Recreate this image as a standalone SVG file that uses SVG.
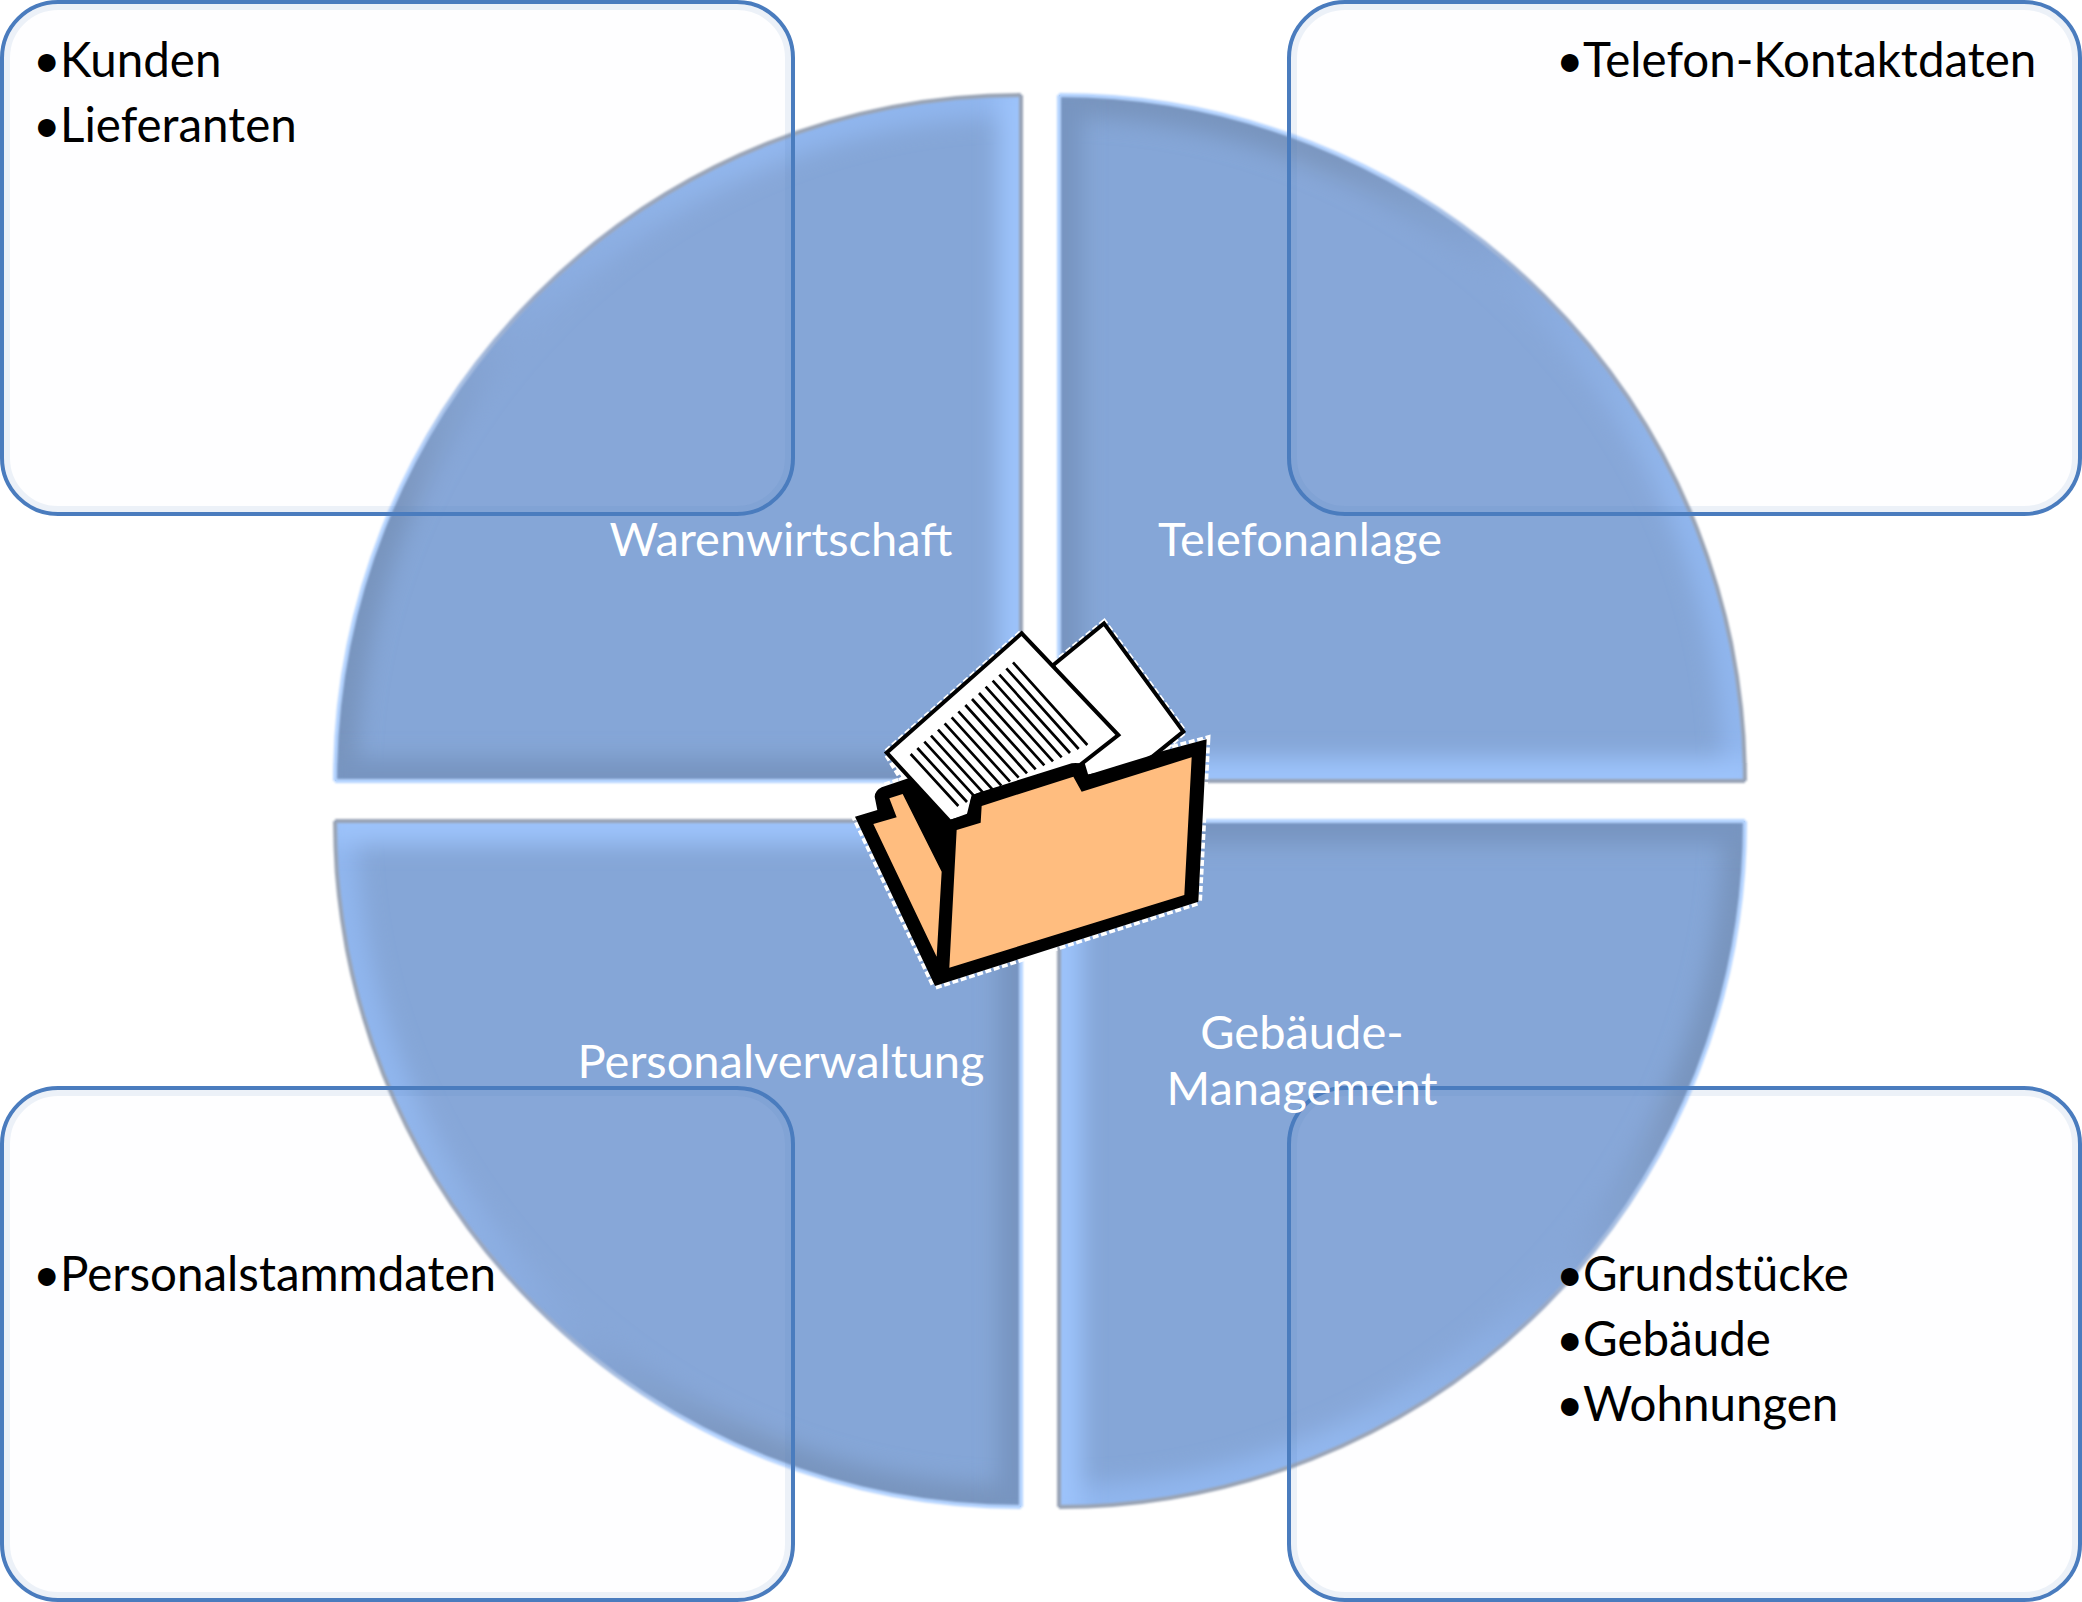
<svg xmlns="http://www.w3.org/2000/svg" xmlns:xlink="http://www.w3.org/1999/xlink" width="2082" height="1602" viewBox="0 0 2082 1602">
<style>
text{font-family:Lato,"Liberation Sans",sans-serif}
.b{font-size:47.5px;fill:#000}
.l{font-size:47px;fill:#fff;text-anchor:middle}
.box{fill:#e8d8ff;fill-opacity:.03;stroke:#4a7cbe;stroke-width:4}
.boxi{fill:none;stroke:#4a7cbe;stroke-opacity:.1;stroke-width:6}
</style>
<defs>
<clipPath id="qc"><path d="M0,0L-686,0A686,686 0 0 1 0,-686Z"/></clipPath>
<filter id="bl" filterUnits="userSpaceOnUse" x="-740" y="-740" width="800" height="800"><feGaussianBlur stdDeviation="11"/></filter>
<filter id="bs" filterUnits="userSpaceOnUse" x="-740" y="-740" width="800" height="800"><feGaussianBlur stdDeviation="1"/></filter>
<linearGradient id="arcIn" gradientUnits="userSpaceOnUse" x1="-250" y1="-600" x2="-600" y2="-250"><stop offset="0" stop-color="#90b6ee"/><stop offset=".45" stop-color="#88abdf"/><stop offset=".6" stop-color="#85a6d7"/><stop offset="1" stop-color="#7894be"/></linearGradient>
<linearGradient id="arcOut" gradientUnits="userSpaceOnUse" x1="-300" y1="-600" x2="-600" y2="-300"><stop offset="0" stop-color="#9aa4b5"/><stop offset=".5" stop-color="#98a8c4"/><stop offset="1" stop-color="#b5d4ff"/></linearGradient>
<g id="q">
<path d="M0,0L-686,0A686,686 0 0 1 0,-686Z" fill="#85a6d7"/>
<g clip-path="url(#qc)">
<path d="M-686,0A686,686 0 0 1 0,-686" fill="none" stroke="url(#arcIn)" stroke-width="44" filter="url(#bl)"/>
<path d="M0,20L0,-700" fill="none" stroke="#9cc3fb" stroke-width="46" filter="url(#bl)"/>
<path d="M-700,0L20,0" fill="none" stroke="#7794c0" stroke-width="46" filter="url(#bl)"/>
</g>
<g filter="url(#bs)" fill="none" stroke-width="4">
<path d="M-686,0A686,686 0 0 1 0,-686" stroke="url(#arcOut)"/>
<path d="M0,0L0,-686" stroke="#98a3b5"/>
<path d="M-686,0L0,0" stroke="#b5d4ff"/>
</g>
</g>
</defs>
<rect width="2082" height="1602" fill="#fff"/>
<g id="quadrant-warenwirtschaft"><use xlink:href="#q" href="#q" transform="translate(1021,781)"/></g>
<g id="quadrant-telefonanlage"><use xlink:href="#q" href="#q" transform="translate(1059,781) rotate(90)"/></g>
<g id="quadrant-gebaeude"><use xlink:href="#q" href="#q" transform="translate(1059,821) rotate(180)"/></g>
<g id="quadrant-personal"><use xlink:href="#q" href="#q" transform="translate(1021,821) rotate(270)"/></g>

<g id="box-warenwirtschaft">
<rect class="box" x="2" y="2" width="791" height="512" rx="56"/><rect class="boxi" x="7" y="7" width="781" height="502" rx="51"/>
<text class="b" y="77"><tspan x="33">•</tspan><tspan x="60">Kunden</tspan></text>
<text class="b" y="142"><tspan x="33">•</tspan><tspan x="60">Lieferanten</tspan></text>
</g>
<g id="box-telefonanlage">
<rect class="box" x="1289" y="2" width="791" height="512" rx="56"/><rect class="boxi" x="1294" y="7" width="781" height="502" rx="51"/>
<text class="b" y="77"><tspan x="1556">•</tspan><tspan x="1583">Telefon-Kontaktdaten</tspan></text>
</g>
<g id="box-personal">
<rect class="box" x="2" y="1088" width="791" height="512" rx="56"/><rect class="boxi" x="7" y="1093" width="781" height="502" rx="51"/>
<text class="b" y="1291"><tspan x="33">•</tspan><tspan x="60">Personalstammdaten</tspan></text>
</g>
<g id="box-gebaeude">
<rect class="box" x="1289" y="1088" width="791" height="512" rx="56"/><rect class="boxi" x="1294" y="1093" width="781" height="502" rx="51"/>
<text class="b" y="1291"><tspan x="1556">•</tspan><tspan x="1583">Grundstücke</tspan></text>
<text class="b" y="1356"><tspan x="1556">•</tspan><tspan x="1583">Gebäude</tspan></text>
<text class="b" y="1421"><tspan x="1556">•</tspan><tspan x="1583">Wohnungen</tspan></text>
</g>

<g id="label-warenwirtschaft"><text class="l" x="781" y="556">Warenwirtschaft</text></g>
<g id="label-telefonanlage"><text class="l" x="1300" y="556">Telefonanlage</text></g>
<g id="label-personal"><text class="l" x="781" y="1078">Personalverwaltung</text></g>
<g id="label-gebaeude"><text class="l" x="1302" y="1049">Gebäude-</text><text class="l" x="1302" y="1105">Management</text></g>

<g id="folder" transform="translate(840,600) scale(.33333)">
<path d="M45,650L112,630L104,590L125,562L190,540L140,458L545,100L640,195L792,70L1030,395L960,455L1100,418L1075,905L285,1158Z" fill="#fff" stroke="#fff" stroke-width="22" stroke-dasharray="18 8"/>
<path d="M640,195L792,70L1030,395L900,500L740,530Z" fill="#fff" stroke="#000" stroke-width="12"/>
<path d="M140,458L545,100L835,405L720,495L400,590L385,650L330,665Z" fill="#fff" stroke="#000" stroke-width="12"/>
<path id="lines" fill="none" stroke="#000" stroke-width="8" d="M212,462L355,618M232,444L381,606M253,425L407,593M273,407L432,581M294,389L458,569M314,370L484,557M335,352L510,545M355,334L536,533M376,315L561,520M396,297L587,508M417,279L613,496M437,260L639,484M458,242L665,472M478,224L690,459M499,205L716,447M519,187L742,435"/>
<path d="M45,650L112,630L104,590Q105,572 125,562L205,535L330,660L385,640L392,600Q395,585 415,578L695,490Q722,485 730,500L742,525L920,470L960,455L1100,418L1075,905L285,1158Z" fill="#000"/>
<path d="M350,690L422,668L425,618L700,530L725,575L1055,472L1033,885L328,1103Z" fill="#ffbd7f"/>
<path d="M100,672L170,652L148,595L188,582L305,815L290,1070Z" fill="#ffbd7f"/>
</g>
</svg>
